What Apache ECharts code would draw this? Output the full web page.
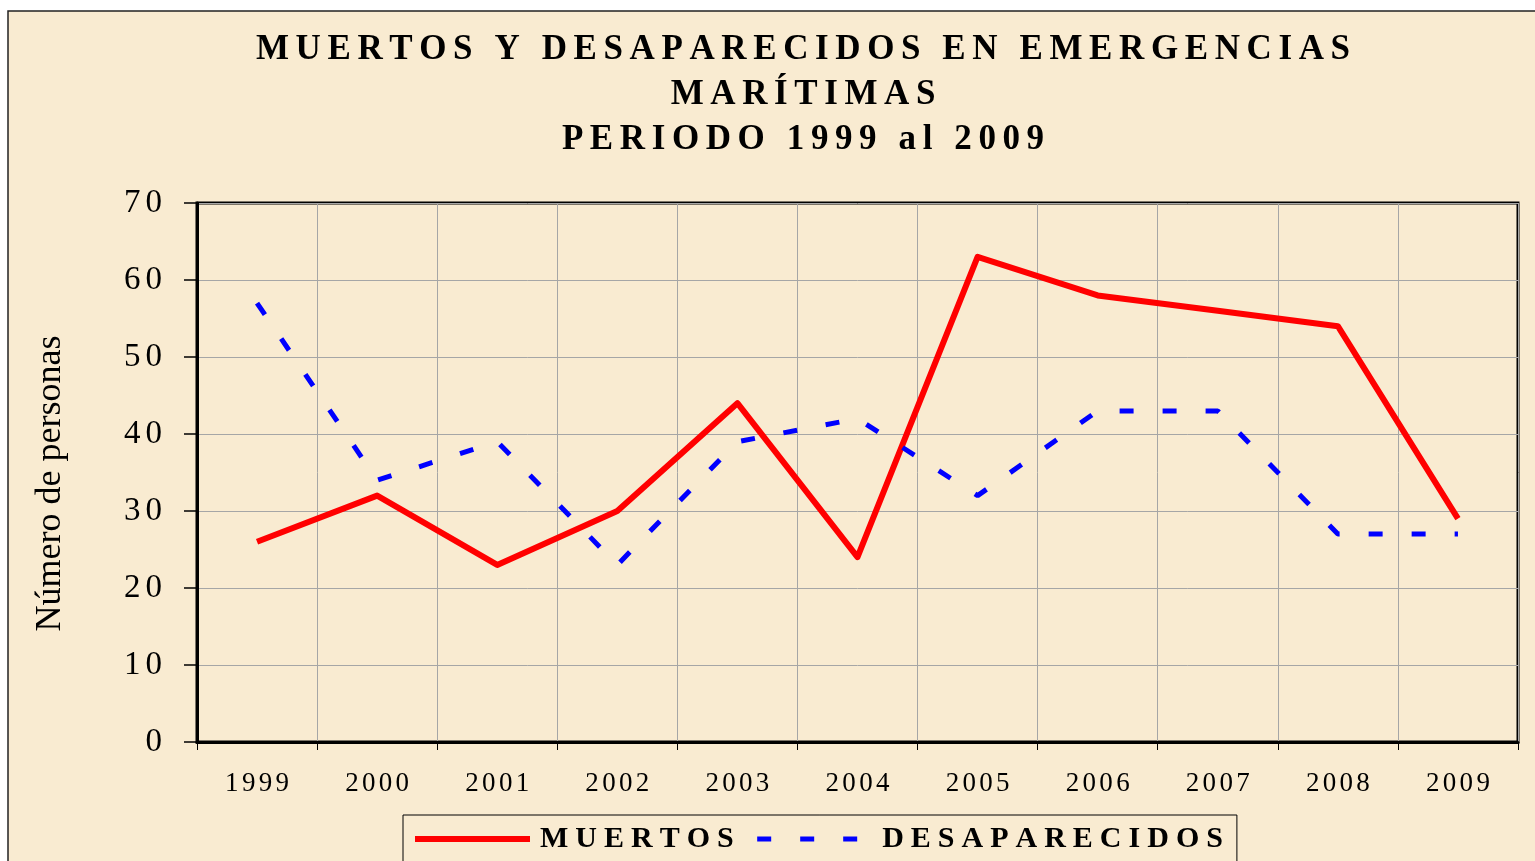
<!DOCTYPE html>
<html>
<head>
<meta charset="utf-8">
<title>Muertos y desaparecidos en emergencias marítimas</title>
<script src="https://cdn.jsdelivr.net/npm/echarts@6/dist/echarts.min.js"></script>
<style>
  html, body { margin: 0; padding: 0; background: #fff; }
  #chart { width: 1535px; height: 861px; }
</style>
</head>
<body>
<div id="chart"></div>
<script>
// data
var years = ['1999', '2000', '2001', '2002', '2003', '2004', '2005', '2006', '2007', '2008', '2009'];
var muertos = [26, 32, 23, 30, 44, 24, 63, 58, 56, 54, 29];
var desaparecidos = [57, 34, 39, 23, 39, 42, 32, 43, 43, 27, 27];
var titleLines = ['MUERTOS Y DESAPARECIDOS EN EMERGENCIAS', 'MARÍTIMAS', 'PERIODO 1999 al 2009'];

var serif = '"Liberation Serif", "DejaVu Serif", serif';

// wraps each letter in a rich token so the letters get spread out
// first letter uses key+"f", last letter key+"e" (no trailing gap)
function spaced(str, key) {
    var out = [];
    for (var i = 0; i < str.length; i++) {
        var k = key;
        if (i === str.length - 1) k = key + 'e';
        else if (i === 0) k = key + 'f';
        out.push('{' + k + '|' + str.charAt(i) + '}');
    }
    return out.join('');
}

function letterStyle(size, weight, gap, lineHeight, lead) {
    return {
        fontFamily: serif,
        fontSize: size,
        fontWeight: weight,
        color: '#000',
        lineHeight: lineHeight,
        padding: [0, gap, 0, lead || 0]
    };
}

// same style for plain / first / last letter, only the gaps differ
function richSet(key, size, weight, gap, lineHeight, lead) {
    var r = {};
    r[key] = letterStyle(size, weight, gap, lineHeight);
    r[key + 'f'] = letterStyle(size, weight, gap, lineHeight, lead);
    r[key + 'e'] = letterStyle(size, weight, 0, lineHeight);
    return r;
}

var chart = echarts.init(document.getElementById('chart'));

option = {
    backgroundColor: '#fff'
    , animation: false
    , graphic: [{
        type: 'rect'
        , z: -10
        , silent: true
        , shape: { x: 8, y: 11, width: 1600, height: 900 }
        , style: { fill: '#f9ebd1', stroke: '#222', lineWidth: 1.5 }
    }]
    , title: {
        text: titleLines.map(function (l) { return spaced(l, 't'); }).join('\n')
        , left: 803
        , top: 27
        , padding: 0
        , textAlign: 'center'
        , textStyle: { rich: richSet('t', 35, 'bold', 6.6, 45) }
    }
    , legend: {
        left: 403
        , top: 815
        , padding: [9, 14, 30, 9]
        , itemGap: 21
        , itemWidth: 115
        , itemHeight: 14
        , borderColor: '#000'
        , borderWidth: 1
        , backgroundColor: '#f9ebd1'
        , itemStyle: { opacity: 0 }
        , data: [
            { name: 'MUERTOS', lineStyle: { width: 6, type: 'solid', color: '#ff0000' } }
            , { name: 'DESAPARECIDOS', lineStyle: { width: 5, type: [14, 29], color: '#0000ff' } }
        ]
        , formatter: function (name) { return spaced(name, 'l'); }
        , textStyle: { rich: richSet('l', 30, 'bold', 7, 32, 5) }
    }
    , grid: {
        left: 197
        , right: 17
        , top: 203
        , bottom: 119
        , show: true
        , borderColor: '#000'
        , borderWidth: 3
        , backgroundColor: 'transparent'
    }
    , xAxis: {
        type: 'category'
        , data: years
        , boundaryGap: true
        , axisLine: { lineStyle: { color: '#000', width: 3 } }
        , axisTick: { show: true, length: 8, interval: 0, lineStyle: { color: '#000', width: 1 } }
        , splitLine: { show: true, interval: 0, lineStyle: { color: '#a6a6a6', width: 1 } }
        , axisLabel: {
            margin: 27
            , interval: 0
            , formatter: function (v) { return spaced(v, 'x'); }
            , rich: richSet('x', 27, 'normal', 3.3, 30)
        }
    }
    , yAxis: {
        type: 'value'
        , min: 0
        , max: 70
        , interval: 10
        , name: 'Número de personas'
        , nameLocation: 'middle'
        , nameGap: 128
        , nameTextStyle: { fontFamily: serif, fontSize: 36, color: '#000', padding: [0, 22, 0, 0] }
        , axisLine: { show: true, lineStyle: { color: '#000', width: 3 } }
        , axisTick: { show: true, length: 13, lineStyle: { color: '#000', width: 1.5 } }
        , splitLine: { show: true, lineStyle: { color: '#a6a6a6', width: 1 } }
        , axisLabel: {
            margin: 35
            , formatter: function (v) { return spaced(String(v), 'y'); }
            , rich: richSet('y', 33, 'normal', 5, 34)
        }
    }
    , series: [
        {
            name: 'MUERTOS'
            , type: 'line'
            , data: muertos
            , symbol: 'none'
            , color: '#ff0000'
            , lineStyle: { color: '#ff0000', width: 6, join: 'round' }
        }
        , {
            name: 'DESAPARECIDOS'
            , type: 'line'
            , data: desaparecidos
            , symbol: 'none'
            , color: '#0000ff'
            , lineStyle: { color: '#0000ff', width: 5, type: [14, 29], cap: 'butt' }
        }
    ]
};

chart.setOption(option, true);
</script>
</body>
</html>
